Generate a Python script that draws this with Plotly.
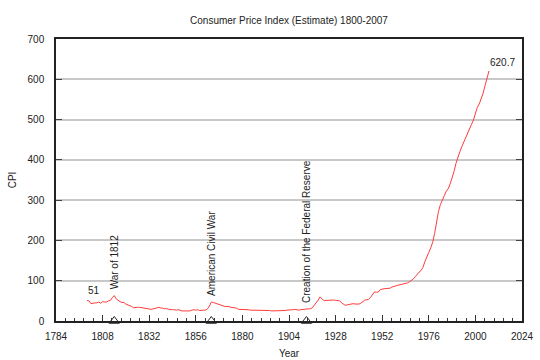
import plotly.graph_objects as go

years = list(range(1800, 2008))
cpi = [
    51, 50, 43, 45, 45, 45, 47, 44, 48, 47,          # 1800-1809
    47, 50, 51, 58, 63, 55, 51, 48, 46, 46,          # 1810-1819
    42, 40, 40, 36, 33, 34, 34, 34, 33, 32,          # 1820-1829
    32, 31, 30, 29, 30, 31, 33, 34, 32, 32,          # 1830-1839
    30, 31, 29, 28, 28, 28, 27, 28, 26, 25,          # 1840-1849
    25, 25, 25, 25, 27, 28, 27, 28, 26, 27,          # 1850-1859
    27, 27, 30, 37, 47, 46, 44, 42, 40, 40,          # 1860-1869
    38, 36, 36, 36, 34, 33, 32, 32, 29, 29,          # 1870-1879
    29, 29, 29, 28, 27, 27, 27, 27, 27, 27,          # 1880-1889
    27, 27, 27, 27, 26, 25, 25, 25, 25, 25,          # 1890-1899
    25, 25, 26, 27, 27, 27, 28, 29, 28, 27,          # 1900-1909
    28, 28, 29, 29.7, 30.1, 30.4, 32.7, 38.4, 45.1, 51.8,   # 1910-1919
    60.0, 53.6, 50.2, 51.1, 51.2, 52.5, 53.0, 52.0, 51.3, 51.3,  # 1920-1929
    50.0, 45.6, 40.9, 38.8, 40.1, 41.1, 41.5, 43.0, 42.2, 41.6,  # 1930-1939
    42.0, 44.1, 48.8, 51.8, 52.7, 53.9, 58.5, 66.9, 72.1, 71.4,  # 1940-1949
    72.1, 77.8, 79.5, 80.1, 80.5, 80.2, 81.4, 84.3, 86.6, 87.3,  # 1950-1959
    88.7, 89.6, 90.6, 91.7, 92.9, 94.5, 97.2, 100.0, 104.2, 109.8,  # 1960-1969
    116.3, 121.3, 125.3, 133.1, 147.7, 161.2, 170.5, 181.5, 195.4, 217.4,  # 1970-1979
    246.8, 272.4, 289.1, 298.4, 311.1, 322.2, 328.4, 340.4, 354.3, 371.3,  # 1980-1989
    391.4, 408.0, 420.3, 432.7, 444.0, 456.5, 469.9, 480.8, 488.3, 499.0,  # 1990-1999
    515.8, 530.4, 538.8, 551.1, 565.8, 585.0, 603.9, 620.7,                # 2000-2007
]

event_years = [1814, 1864, 1913]
event_labels = ["War of 1812", "American Civil War", "Creation of the Federal Reserve"]
event_base = [0, 0, 0]

y_ticks = [0, 100, 200, 300, 400, 500, 600, 700]
x_ticks = [1784, 1808, 1832, 1856, 1880, 1904, 1928, 1952, 1976, 2000, 2024]

FONT = "Liberation Sans, Arial, sans-serif"

fig = go.Figure()
fig.add_trace(go.Scatter(
    x=years, y=cpi, mode="lines",
    line=dict(color="#ff3b3b", width=1),
    showlegend=False, hoverinfo="skip",
))
fig.add_trace(go.Scatter(
    x=event_years, y=event_base, mode="markers",
    marker=dict(symbol="triangle-up-open", size=9, color="#222", line=dict(width=1, color="#222")),
    cliponaxis=False, showlegend=False, hoverinfo="skip",
))

annotations = []
for yr, lab in zip(event_years, event_labels):
    v = cpi[years.index(yr)]
    annotations.append(dict(
        x=yr, y=v, xref="x", yref="y", text=lab, textangle=-90,
        showarrow=False, xanchor="center", yanchor="bottom", yshift=4,
        font=dict(size=10, color="#222", family=FONT),
    ))
annotations.append(dict(
    x=years[0], y=cpi[0], xref="x", yref="y", text=f"{cpi[0]:g}",
    showarrow=False, xanchor="left", yanchor="bottom", yshift=2, xshift=-1,
    font=dict(size=10, color="#222", family=FONT),
))
annotations.append(dict(
    x=years[-1], y=cpi[-1], xref="x", yref="y", text=f"{cpi[-1]:g}",
    showarrow=False, xanchor="left", yanchor="bottom", yshift=1, xshift=-1,
    font=dict(size=10, color="#222", family=FONT),
))

fig.update_layout(
    width=540, height=360,
    margin=dict(l=56, r=18, t=39, b=39, autoexpand=False),
    paper_bgcolor="white", plot_bgcolor="white",
    font=dict(family=FONT, size=10, color="#222"),
    title=dict(text="Consumer Price Index (Estimate) 1800-2007",
               x=0.5, xref="paper", y=1 - 20 / 360, yref="container",
               xanchor="center", yanchor="middle",
               font=dict(size=10, color="#222", family=FONT)),
    annotations=annotations,
)

fig.update_xaxes(
    range=[1784, 2024], tickmode="array", tickvals=x_ticks,
    ticktext=[str(t) for t in x_ticks],
    ticks="inside", ticklen=6, tickwidth=1, tickcolor="#333",
    showline=True, linecolor="#222", linewidth=1.5, mirror=True,
    showgrid=False, zeroline=False,
    minor=dict(dtick=4.8, tick0=1784, ticks="inside", ticklen=3, tickcolor="#333", tickwidth=1, showgrid=False),
    ticklabelstandoff=5,
    title=dict(text="Year", standoff=9, font=dict(size=10, color="#222")),
    automargin=False,
)
fig.update_yaxes(
    range=[0, 700], tickmode="array", tickvals=y_ticks,
    ticks="inside", ticklen=6, tickwidth=1, tickcolor="#444",
    showline=True, linecolor="#222", linewidth=1.5, mirror="ticks",
    showgrid=True, gridcolor="#c8c8c8", gridwidth=1.5, zeroline=False,
    ticklabelstandoff=8,
    title=dict(text="CPI", standoff=9, font=dict(size=10, color="#222")),
    automargin=False,
)

fig.write_html("out.html")
